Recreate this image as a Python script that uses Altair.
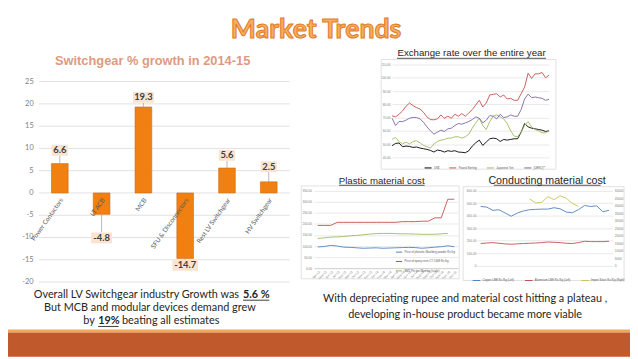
import altair as alt
import pandas as pd

# ---------------- data ----------------
categories = ["Power Contactors", "LT ACB", "MCB", "SFU & Disconnectors",
              "Rest LV Switchgear", "HV Switchgear"]
growth = [6.6, -4.8, 19.3, -14.7, 5.6, 2.5]
label_at = [9.6, -10.1, 21.45, -16.25, 8.45, 5.9]
growth_ticks = [-20, -15, -10, -5, 0, 5, 10, 15, 20, 25]

fx_names = ["US$", "Pound Sterling", "Japanese Yen", "[UERO]**"]
fx_usd = [48.8, 50.5, 50.8, 48.0, 48.5, 48.2, 47.5, 47.8, 47.0, 46.5,
          46.0, 45.2, 44.0, 45.5, 45.0, 44.0, 45.0, 44.5, 45.0, 44.0,
          43.8, 43.5, 45.0, 48.5, 51.0, 53.0, 49.0, 51.5, 54.0, 54.5,
          54.0, 52.0, 53.5, 53.0, 53.5, 54.0, 54.0, 59.0, 65.5, 63.0,
          62.0, 61.5, 61.0, 60.5, 59.5, 60.0]
fx_gbp = [71.3, 70.5, 72.5, 75.0, 78.5, 81.0, 79.0, 77.5, 76.5, 74.0,
          70.5, 68.5, 68.3, 69.0, 72.0, 69.5, 71.0, 69.5, 72.5, 71.0,
          73.0, 71.0, 73.5, 76.0, 79.5, 83.0, 78.0, 81.0, 87.0, 87.5,
          88.0, 85.5, 87.0, 84.0, 84.5, 83.0, 83.0, 88.0, 93.0, 103.5,
          99.5, 103.0, 103.0, 104.0, 100.0, 102.0]
fx_jpy = [53.5, 55.0, 52.0, 50.0, 51.5, 50.0, 52.0, 52.5, 51.0, 49.0,
          48.0, 47.0, 50.0, 52.0, 53.0, 53.5, 54.5, 54.5, 55.5, 55.5,
          54.5, 55.5, 57.5, 62.0, 66.0, 69.5, 64.0, 61.0, 67.0, 71.0,
          72.0, 70.5, 69.0, 65.5, 60.0, 56.0, 55.5, 59.0, 64.0, 67.0,
          63.0, 61.0, 60.0, 58.5, 58.5, 60.0]
fx_eur = [69.5, 64.0, 67.0, 67.0, 68.0, 69.5, 70.2, 70.0, 69.0, 66.5,
          63.0, 60.0, 57.5, 59.0, 60.5, 59.5, 61.5, 62.0, 64.0, 65.5,
          65.0, 66.0, 67.0, 68.5, 70.5, 69.5, 66.0, 68.0, 71.5, 71.0,
          69.0, 72.5, 70.0, 70.5, 72.0, 71.0, 71.0, 76.0, 84.0, 87.8,
          85.0, 85.5, 85.0, 84.5, 83.0, 83.8]
fx_ticks = [40, 50, 60, 70, 80, 90, 100, 110]

months = ["Apr-13", "May-13", "Jun-13", "Jul-13", "Aug-13", "Sep-13", "Oct-13",
          "Nov-13", "Dec-13", "Jan-14", "Feb-14", "Mar-14", "Apr-14", "May-14",
          "Jun-14", "Jul-14", "Aug-14", "Sep-14", "Oct-14", "Nov-14", "Dec-14",
          "Jan-15"]

pl_names = ["Price of phenolic Moulding powder Rs /kg",
            "Price of epoxy resin CY 5468 Rs /kg",
            "BMT Per ton Mumbai (scale)"]
pl_phenolic = [96, 98, 103, 100, 95, 94, 92, 90, 91, 92, 90, 91, 92, 93, 94, 93,
               90, 92, 95, 97, 101, 97]
pl_epoxy = [193, 193, 193, 207, 207, 207, 207, 207, 207, 207, 207, 207, 207,
            210, 210, 210, 212, 212, 227, 227, 311, 311]
pl_bmt = [134, 137, 140, 141, 143, 146, 148, 151, 154, 156, 157, 157, 156, 155,
          155, 154, 153, 153, 153, 155, 157, None]
pl_ticks = [0, 50, 100, 150, 200, 250, 300, 350]

cd_names = ["Copper LME Rs /Kg (Left)", "Aluminium LME Rs /Kg (Left)",
            "Import Silver Rs /Kg (Right)"]
cd_copper = [473, 468, 442, 447, 421, 395, 421, 437, 447, 450, 452, 452, 463,
             455, 429, 423, 447, 481, 473, 478, 431, 442]
cd_alu = [177, 181, 184, 179, 174, 171, 174, 177, 179, 181, 184, 189, 187, 184,
          179, 177, 184, 195, 192, 192, 192, 195]
cd_silver = [None] * 8 + [44500, 41800, 42200, 46000, 44000, 46500, 45000,
                          41500, 39500] + [None] * 5
cd_left_ticks = [0, 100, 200, 300, 400, 500, 600]
cd_right_ticks = [0, 5000, 10000, 15000, 20000, 25000, 30000, 35000, 40000,
                  45000, 50000]

# ---------------- styling ----------------
W, H = 630, 351
FONT = "Lato"
SANS = "Liberation Sans"
GRID = "#D9D9D9"
TINY = 3.2

# ---------------- bar chart ----------------
bar_df = pd.DataFrame({"cat": categories, "v": growth,
                       "lab": [f"{v:.1f}" for v in growth], "at": label_at})
tick_df = pd.DataFrame({"t": growth_ticks, "tl": [str(t) for t in growth_ticks]})
bx = alt.X("cat:N", scale=alt.Scale(domain=categories, range=[31.3, 285.3],
                                    paddingInner=0.6, paddingOuter=0.3), axis=None)
by_scale = alt.Scale(domain=[-20, 25], range=[275.3, 72.3], nice=False)

grid = alt.Chart(tick_df).mark_rule(color=GRID, strokeWidth=0.8).encode(
    y=alt.Y("t:Q", scale=by_scale, axis=None), x=alt.value(31.3), x2=alt.value(285.3))
tick_labels = alt.Chart(tick_df).mark_text(
    align="right", baseline="middle", font=FONT, fontSize=7.5, color="#7F7F7F").encode(
    y=alt.Y("t:Q", scale=by_scale, axis=None), x=alt.value(26), text="tl:N")
bars = alt.Chart(bar_df).mark_bar(color="#F08012", stroke="#CF6A12", strokeWidth=0.6).encode(
    x=bx, y=alt.Y("v:Q", scale=by_scale, axis=None))
leaders = alt.Chart(bar_df).transform_calculate(
    edge="datum.at > datum.v ? datum.at - 1.22 : datum.at + 1.22"
).mark_rule(color="#A6A6A6", strokeWidth=0.8).encode(
    x=bx, y=alt.Y("v:Q", scale=by_scale, axis=None), y2="edge:Q")
boxes = alt.Chart(bar_df).transform_calculate(
    lo="datum.at - 1.22", hi="datum.at + 1.22", w="length(datum.lab) * 4.8 + 2"
).mark_bar(color="#FBE3D1").encode(
    x=bx, y=alt.Y("lo:Q", scale=by_scale, axis=None), y2="hi:Q",
    size=alt.Size("w:Q", scale=None, legend=None))
values = alt.Chart(bar_df).mark_text(font=FONT, fontWeight="bold", fontSize=9.5,
                                     color="#404040", baseline="middle").encode(
    x=bx, y=alt.Y("at:Q", scale=by_scale, axis=None), text="lab:N")
cat_labels = alt.Chart(bar_df).transform_calculate(z="0").mark_text(
    angle=305, align="right", baseline="middle", font=FONT, fontSize=6.5,
    color="#595959", xOffset=2, yOffset=6).encode(
    x=bx, y=alt.Y("z:Q", scale=by_scale, axis=None), text="cat:N")
bar_layer = alt.layer(grid, tick_labels, bars, leaders, boxes, values, cat_labels)

# ---------------- exchange rate chart ----------------
fx_rows = []
for name, vals in zip(fx_names, [fx_usd, fx_gbp, fx_jpy, fx_eur]):
    for i, v in enumerate(vals):
        fx_rows.append({"i": i, "val": v, "s": name})
fx_df = pd.DataFrame(fx_rows)
fx_chart = alt.Chart(fx_df).mark_line(strokeWidth=0.9).encode(
    x=alt.X("i:Q", scale=alt.Scale(domain=[0, 45], range=[389, 548], nice=False,
                                   zero=False), axis=None),
    y=alt.Y("val:Q", scale=alt.Scale(domain=[40, 110], range=[149, 55], nice=False,
                                     zero=False),
            axis=alt.Axis(orient="left", offset=-388, values=fx_ticks, format=".2f",
                          domain=False, ticks=False, tickSize=0, labelPadding=1,
                          labelFont=SANS, labelFontSize=TINY, labelColor="#808080",
                          grid=True, gridColor=GRID, gridWidth=0.6, title=None)),
    color=alt.Color("s:N", scale=alt.Scale(domain=fx_names,
                                           range=["#000000", "#C0504D", "#9BBB59", "#8064A2"]),
                    legend=alt.Legend(orient="none", legendX=421, legendY=155,
                                      direction="horizontal", title=None,
                                      symbolType="stroke", symbolSize=50,
                                      symbolStrokeWidth=1, labelFont=SANS,
                                      labelFontSize=2.8, labelColor="#595959",
                                      columnPadding=7, labelOffset=1.5, padding=0)),
)

# ---------------- plastic material chart ----------------
pl_rows = []
for name, vals in zip(pl_names, [pl_phenolic, pl_epoxy, pl_bmt]):
    for m, v in zip(months, vals):
        if v is not None:
            pl_rows.append({"m": m, "val": v, "s": name})
pl_df = pd.DataFrame(pl_rows)
pl_chart = alt.Chart(pl_df).mark_line(strokeWidth=0.9).encode(
    x=alt.X("m:O", scale=alt.Scale(domain=months, range=[310, 455.7], padding=0.56),
            axis=alt.Axis(orient="bottom", offset=-89.7, labelAngle=315, labelFont=SANS,
                          labelFontSize=TINY, labelColor="#808080", ticks=False,
                          tickSize=0, domainColor="#BFBFBF", domainWidth=0.6,
                          labelPadding=1.5, title=None)),
    y=alt.Y("val:Q", scale=alt.Scale(domain=[0, 350], range=[261.3, 182.7], nice=False),
            axis=alt.Axis(orient="left", offset=-308.5, values=pl_ticks, format=".2f",
                          domain=False, ticks=False, tickSize=0, labelPadding=1,
                          labelFont=SANS, labelFontSize=TINY, labelColor="#808080",
                          grid=True, gridColor=GRID, gridWidth=0.6, title=None)),
    color=alt.Color("s:N", scale=alt.Scale(domain=pl_names,
                                           range=["#4F81BD", "#C0504D", "#9BBB59"]),
                    legend=alt.Legend(orient="none", legendX=392, legendY=241,
                                      direction="vertical", title=None,
                                      symbolType="stroke", symbolSize=40,
                                      symbolStrokeWidth=1, labelFont=SANS,
                                      labelFontSize=2.8, labelColor="#595959",
                                      rowPadding=3.5, labelOffset=1.5, padding=0)),
)

# ---------------- conducting material chart ----------------
cd_rows = []
for name, vals, side in zip(cd_names, [cd_copper, cd_alu, cd_silver], ["L", "L", "R"]):
    for m, v in zip(months, vals):
        if v is not None:
            cd_rows.append({"m": m, "val": v, "s": name, "side": side})
cd_df = pd.DataFrame(cd_rows)
cd_x = alt.X("m:O", scale=alt.Scale(domain=months, range=[475, 612.4], padding=0.6),
             axis=alt.Axis(orient="bottom", offset=258.7 - H, labelAngle=315,
                           labelFont=SANS, labelFontSize=TINY, labelColor="#808080",
                           ticks=False, tickSize=0, domainColor="#BFBFBF",
                           domainWidth=0.6, labelPadding=1.5, title=None))
cd_color_scale = alt.Scale(domain=cd_names, range=["#4F81BD", "#C0504D", "#C9C25A"])
cd_left = alt.Chart(cd_df).transform_filter("datum.side == 'L'").mark_line(strokeWidth=0.9).encode(
    x=cd_x,
    y=alt.Y("val:Q", scale=alt.Scale(domain=[0, 600], range=[258.7, 182.7], nice=False),
            axis=alt.Axis(orient="left", offset=-475, values=cd_left_ticks,
                          labelExpr="datum.value == 0 ? '0' : format(datum.value, '.2f')",
                          domain=False, ticks=False, tickSize=0, labelPadding=1,
                          labelFont=SANS, labelFontSize=TINY, labelColor="#808080",
                          grid=True, gridColor=GRID, gridWidth=0.6, title=None)),
    color=alt.Color("s:N", scale=cd_color_scale,
                    legend=alt.Legend(orient="none", legendX=470, legendY=269,
                                      direction="horizontal", title=None,
                                      symbolType="stroke", symbolSize=60,
                                      symbolStrokeWidth=1, labelFont=SANS,
                                      labelFontSize=2.8, labelColor="#595959",
                                      columnPadding=8, labelOffset=1.5, padding=0)),
)
cd_right = alt.Chart(cd_df).transform_filter("datum.side == 'R'").mark_line(strokeWidth=0.9).encode(
    x=alt.X("m:O", scale=alt.Scale(domain=months, range=[475, 612.4], padding=0.6), axis=None),
    y=alt.Y("val:Q", scale=alt.Scale(domain=[0, 50000], range=[258.7, 182.7], nice=False),
            axis=alt.Axis(orient="right", offset=-17, values=cd_right_ticks, format="d",
                          domain=False, ticks=False, tickSize=0, labelPadding=1,
                          labelFont=SANS, labelFontSize=TINY, labelColor="#808080",
                          grid=False, title=None)),
    color=alt.Color("s:N", scale=cd_color_scale, legend=None),
)
cd_chart = alt.layer(cd_left, cd_right).resolve_scale(y="independent")

# ---------------- slide decorations ----------------
one = pd.DataFrame({"k": [0]})


def text(s, x, y, size, font=FONT, align="center", color="#262626", **kw):
    return alt.Chart(one).mark_text(text=s, font=font, fontSize=size, align=align,
                                    baseline="alphabetic", color=color, **kw).encode(
        x=alt.value(x), y=alt.value(y))


def hline(x1, x2, y, color="#262626", width=0.8):
    return alt.Chart(one).mark_rule(color=color, strokeWidth=width).encode(
        x=alt.value(x1), x2=alt.value(x2), y=alt.value(y))


def box(x1, x2, y1, y2, fill="white", stroke=None, sw=0.8):
    kw = {"fill": fill}
    if stroke:
        kw.update(stroke=stroke, strokeWidth=sw, fillOpacity=0)
    return alt.Chart(one).mark_rect(**kw).encode(
        x=alt.value(x1), x2=alt.value(x2), y=alt.value(y1), y2=alt.value(y2))


frames = [
    box(378, 555, 50, 161, stroke=GRID),
    box(297, 457, 178, 272, stroke=GRID),
    box(461, 624, 178.7, 273.7, stroke=GRID),
]
band = [
    box(0, W, 323.3, 326.3, fill="#F2A65A"),
    box(0, W, 326.3, H, fill="#C05A2C"),
]
titles = [
    text("Market Trends", 312, 28.5, 27, fontWeight="bold", color="#F6AE5E",
         stroke="#E07A1F", strokeWidth=1),
    text("Switchgear % growth in 2014-15", 146.5, 55.5, 13, font=SANS,
         fontWeight="bold", color="#DE9A7F"),
    text("Exchange rate over the entire year", 469.5, 46.7, 9.8, font=SANS),
    hline(394, 545, 48.7),
    text("Plastic material cost", 378.5, 175.5, 9.8, font=SANS),
    hline(335.3, 422, 177.3),
    text("Conducting material cost", 546, 175.5, 10.8, font=SANS),
    hline(492, 600.3, 177.3),
]
notes = [
    text("Overall LV Switchgear industry Growth was", 234, 291, 11, align="right"),
    text("5.6 %", 238, 291, 11, align="left", fontWeight="bold"),
    hline(238, 264.7, 293.7, width=0.9),
    text("But MCB and modular devices demand grew", 143.7, 304.7, 11),
    text("by", 88, 317.7, 11, align="right"),
    text("19%", 91.3, 317.7, 11, align="left", fontWeight="bold"),
    hline(91.3, 112, 320.3, width=0.9),
    text("beating all estimates", 115.5, 317.7, 11, align="left"),
    text("With depreciating rupee and material cost hitting a plateau ,", 463, 295.3, 11),
    text("developing in-house product became more viable", 463, 311.7, 11),
]

chart = alt.layer(
    *frames, bar_layer, fx_chart, pl_chart, cd_chart, *titles, *notes, *band
).resolve_scale(
    x="independent", y="independent", color="independent", size="independent"
).properties(
    width=W, height=H, padding=0,
    autosize=alt.AutoSizeParams(type="none"),
).configure_view(stroke=None)

chart.save("out.html", embed_options={"renderer": "svg", "actions": False})
